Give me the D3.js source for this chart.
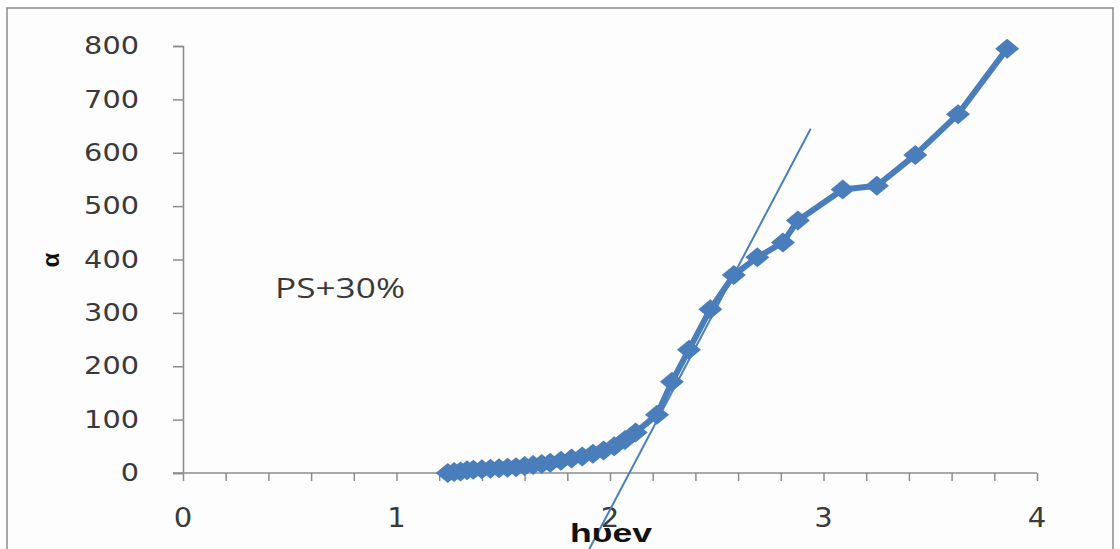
<!DOCTYPE html>
<html><head><meta charset="utf-8">
<script src="https://cdn.jsdelivr.net/npm/d3@7"></script>
<style>body{margin:0;background:#fff;}svg{display:block;}</style>
</head><body>
<svg id="c" width="1120" height="549"></svg>
<script>
const energy = [1.24,1.27,1.30,1.33,1.36,1.40,1.44,1.48,1.52,1.56,1.60,1.64,1.68,1.72,1.77,1.82,1.87,1.92,1.97,2.02,2.07,2.12,2.22,2.29,2.37,2.47,2.58,2.69,2.81,2.88,3.09,3.25,3.43,3.63,3.86];
const alpha  = [0,2,3,5,6,7,8,9,10,11,13,15,17,19,23,27,31,36,42,50,62,76,109,171,231,307,371,404,432,473,531,538,596,672,795];
const tangentX = [1.88, 2.94];
const tangentY = [-160, 645];
const xTicks = [0,1,2,3,4];
const yTicks = [0,100,200,300,400,500,600,700,800];
const seriesLabel = "PS+30%";
const xTitle = "hυev";
const yTitle = "α";

const svg = d3.select("#c");
const color = "#4a7ebb";
const axisColor = "#8c8c8c";
const textColor = "#3a3a3a";
const x = d3.scaleLinear().domain([0,4]).range([183,1037]);
const y = d3.scaleLinear().domain([0,800]).range([473,46]);

svg.append("rect").attr("x",7).attr("y",8).attr("width",1106).attr("height",600)
  .attr("fill","#fdfdfd").attr("stroke","#8a8a8a").attr("stroke-width",1.5);

// y axis
const ya = svg.append("g").attr("transform",`translate(${x(0)},0)`)
  .call(d3.axisLeft(y).tickValues(yTicks).tickSize(10).tickPadding(34).tickFormat(d3.format("d")));
ya.select(".domain").attr("stroke",axisColor).attr("stroke-width",1.5);
ya.selectAll(".tick line").attr("stroke",axisColor).attr("stroke-width",1.5);
ya.selectAll("text").attr("font-family","DejaVu Sans, Verdana, sans-serif").attr("font-size",24).attr("fill",textColor)
  .attr("textLength",d=>String(d).length*18.3).attr("lengthAdjust","spacingAndGlyphs");

// x axis
const minor = d3.range(0,4.0001,0.2);
const xa = svg.append("g").attr("transform",`translate(0,${y(0)})`)
  .call(d3.axisBottom(x).tickValues(minor).tickSize(8).tickSizeOuter(0).tickFormat(""));
xa.select(".domain").attr("stroke",axisColor).attr("stroke-width",1.5).attr("d",`M${x(0)-10},0H${x(4)}`);
xa.selectAll(".tick line").attr("stroke",axisColor).attr("stroke-width",1.5);
svg.append("g").selectAll("text").data(xTicks).join("text")
  .attr("x",d=>x(d)).attr("y",y(0)+54).attr("text-anchor","middle")
  .attr("font-family","DejaVu Sans, Verdana, sans-serif").attr("font-size",26).attr("fill",textColor)
  .attr("textLength",18.5).attr("lengthAdjust","spacingAndGlyphs")
  .text(d=>d);

// tangent line
svg.append("line").attr("x1",x(tangentX[0])).attr("y1",y(tangentY[0]))
  .attr("x2",x(tangentX[1])).attr("y2",y(tangentY[1]))
  .attr("stroke",color).attr("stroke-width",2);

// series
svg.append("path").datum(energy.map((e,i)=>[e,alpha[i]]))
  .attr("d",d3.line().x(d=>x(d[0])).y(d=>y(d[1])))
  .attr("fill","none").attr("stroke",color).attr("stroke-width",6).attr("stroke-linejoin","round");
const diamond = "M0,-10L12,0L0,10L-12,0Z";
svg.append("g").selectAll("path").data(energy.map((e,i)=>[e,alpha[i]])).join("path")
  .attr("d",diamond).attr("transform",d=>`translate(${x(d[0])},${y(d[1])})`)
  .attr("fill",color);

// labels
svg.append("text").attr("x",275).attr("y",298).attr("font-family","Open Sans, sans-serif")
  .attr("font-size",27).attr("fill",textColor)
  .attr("textLength",130).attr("lengthAdjust","spacingAndGlyphs").text(seriesLabel);
svg.append("text").attr("x",570).attr("y",542)
  .attr("font-family","Liberation Sans, Arial, sans-serif").attr("font-weight","bold")
  .attr("font-size",26).attr("fill","#111")
  .attr("textLength",82).attr("lengthAdjust","spacingAndGlyphs").text(xTitle);
svg.append("text").attr("transform","translate(59,260) rotate(-90)").attr("text-anchor","middle")
  .attr("font-family","Liberation Sans, Arial, sans-serif").attr("font-weight","bold")
  .attr("font-size",24).attr("fill","#111").text(yTitle);
</script>
</body></html>
